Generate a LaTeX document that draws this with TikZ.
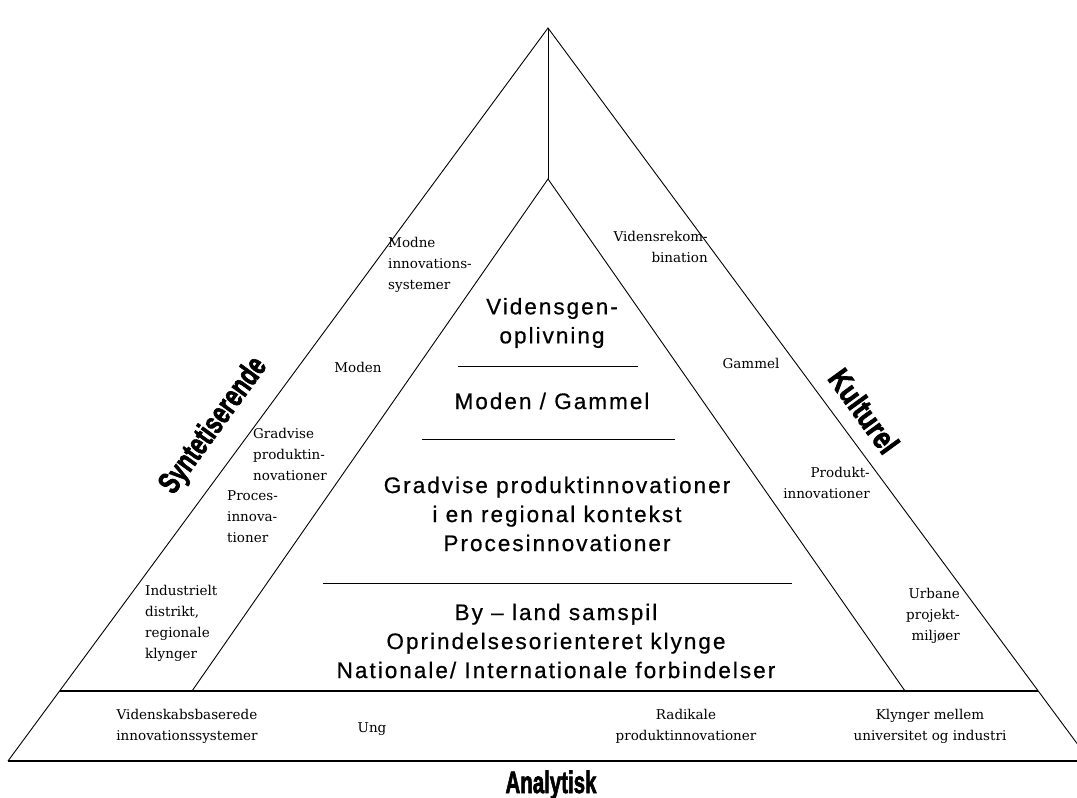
\documentclass[tikz,border=0pt]{standalone}
\usepackage{graphicx}
\usepackage{fontspec}
\setmainfont{DejaVu Serif}
\newfontfamily\mainsans{Liberation Sans}[LetterSpace=9,FakeBold=0.6]
\newfontfamily\heavysans{Liberation Sans Bold}[FakeBold=2.5]
\begin{document}
\begin{tikzpicture}[x=1pt,y=-1pt,
  edge/.style={line width=0.9pt, line join=miter},
  baseline/.style={line width=1.3pt},
  lab/.style={font=\fontsize{13.5}{21}\selectfont, inner sep=0pt},
  big/.style={font=\mainsans\fontsize{22.5}{29}\selectfont, inner sep=0pt, align=center},
  heavy/.style={font=\heavysans\fontsize{31}{31}\selectfont, inner sep=0pt}]
\useasboundingbox (0,0) rectangle (1077,798);
% vertices
\coordinate (A) at (548,28);
\coordinate (BL) at (8,761);
\coordinate (BR) at (1090,761);
\coordinate (IA) at (548,179);
\coordinate (IL) at (192,691);
\coordinate (IR) at (905,691);
\coordinate (ML) at (60,691);
\coordinate (MR) at (1038,691);
\coordinate (h1l) at (458,366); \coordinate (h1r) at (638,366);
\coordinate (h2l) at (422,439); \coordinate (h2r) at (675,439);
\coordinate (h3l) at (323,583); \coordinate (h3r) at (792,583);
% outer triangle
\begin{scope}
\clip (0,0) rectangle (1077,798);
\draw[edge] (BL) -- (A) -- (BR);
\draw[baseline] (BL) -- (BR);
\end{scope}
\draw[edge] (A) -- (IA);
\draw[edge] (IL) -- (IA) -- (IR);
\draw[baseline] (ML) -- (MR);
\draw[edge] (h1l) -- (h1r);
\draw[edge] (h2l) -- (h2r);
\draw[edge] (h3l) -- (h3r);
% central texts
\node[big] (t1) at (552,323) {Vidensgen-\\oplivning};
\node[big] (t2) at (552,401) {Moden / Gammel};
\node[big] (t3) at (557,514) {Gradvise produktinnovationer\\i en regional kontekst\\Procesinnovationer};
\node[big] (t4) at (556,641) {By – land samspil\\Oprindelsesorienteret klynge\\Nationale/ Internationale forbindelser};
% left band labels
\node[lab, align=left, anchor=west] (l1) at (388,265) {Modne\\innovations-\\systemer};
\node[lab] (l2) at (358,367) {Moden};
\node[lab, align=left, anchor=west] (l3) at (253,454) {Gradvise\\produktin-\\novationer};
\node[lab, align=left, anchor=west] (l4) at (227,517) {Proces-\\innova-\\tioner};
\node[lab, align=left, anchor=west] (l5) at (145,623) {Industrielt\\distrikt,\\regionale\\klynger};
% right band labels
\node[lab, align=right, anchor=east] (r1) at (708,247) {Vidensrekom-\\bination};
\node[lab] (r2) at (751,363) {Gammel};
\node[lab, align=right, anchor=east] (r3) at (870,483) {Produkt-\\innovationer};
\node[lab, align=right, anchor=east] (r4) at (960,616) {Urbane\\projekt-\\miljøer};
% bottom band labels
\node[lab, align=center] (b1) at (187,726) {Videnskabsbaserede\\innovationssystemer};
\node[lab] (b2) at (372,729) {Ung};
\node[lab, align=center] (b3) at (686,726) {Radikale\\produktinnovationer};
\node[lab, align=center] (b4) at (930,726) {Klynger mellem\\universitet og industri};
% heavy side labels
\node[heavy, rotate=54] (s1) at (214,426) {\scalebox{0.72}[1]{Syntetiserende}};
\node[heavy, rotate=-54] (s2) at (864,411) {\scalebox{0.82}[1]{Kulturel}};
\node[heavy] (s3) at (551,785) {\scalebox{0.66}[1]{Analytisk}};
\end{tikzpicture}
\end{document}
